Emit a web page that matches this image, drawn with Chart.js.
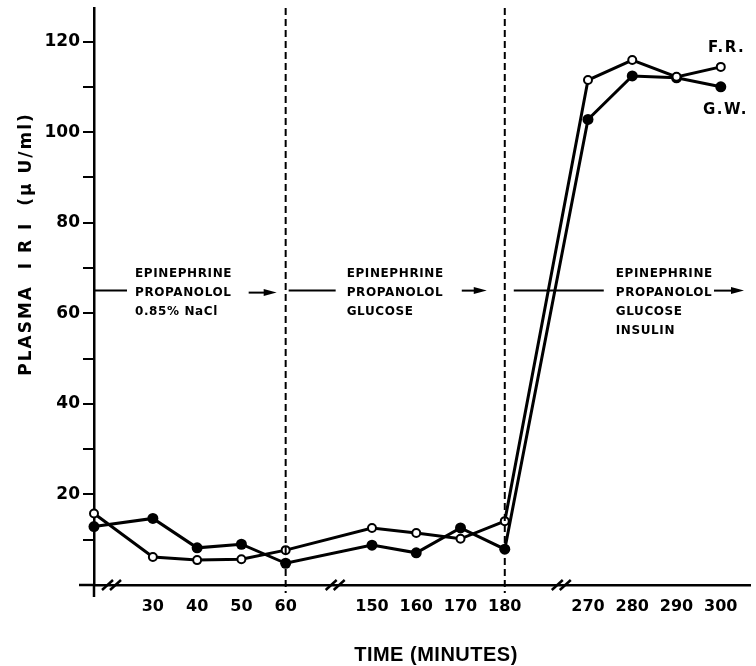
<!DOCTYPE html>
<html>
<head>
<meta charset="utf-8">
<script src="https://cdn.jsdelivr.net/npm/chart.js@4.4.1/dist/chart.umd.min.js"></script>
<style>
  html, body { margin: 0; padding: 0; background: #fff; }
  #wrap { width: 756px; height: 666px; }
</style>
</head>
<body>
<div id="wrap"><canvas id="iriChart" width="756" height="666"></canvas></div>
<script>
// sampling times (minutes) and plasma IRI (uU/ml) for the two subjects
const times = [0, 30, 40, 50, 60, 150, 160, 170, 180, 270, 280, 290, 300];
const frValues = [15.8, 6.2, 5.5, 5.7, 7.7, 12.6, 11.5, 10.2, 14.1, 111.5, 115.9, 112.2, 114.4];
const gwValues = [12.9, 14.7, 8.2, 9.0, 4.8, 8.8, 7.1, 12.6, 7.9, 102.8, 112.4, 112.0, 110.0];
const seriesNames = ['F.R.', 'G.W.'];

const xTickLabels = [30, 40, 50, 60, 150, 160, 170, 180, 270, 280, 290, 300];
const yTickLabels = [20, 40, 60, 80, 100, 120];
const phaseEnds = [60, 180];
const phaseLevel = 65;
const phaseTexts = [
    ['EPINEPHRINE', 'PROPANOLOL', '0.85% NaCl'],
    ['EPINEPHRINE', 'PROPANOLOL', 'GLUCOSE'],
    ['EPINEPHRINE', 'PROPANOLOL', 'GLUCOSE', 'INSULIN']
];

// broken time axis: each break squeezed to "gap" minutes of width
const axisBreaks = [
    { from: 0, to: 30, gap: 13.3 },
    { from: 60, to: 150, gap: 19.5 },
    { from: 180, to: 270, gap: 18.8 }
];
function axisPos(t) {
    let p = t;
    axisBreaks.forEach(b => {
        if (t >= b.to) p -= (b.to - b.from) - b.gap;
    });
    return p;
}

function arrow(ctx, x1, x2, y) {
    ctx.beginPath();
    ctx.moveTo(x1, y);
    ctx.lineTo(x2 - 10, y);
    ctx.stroke();
    ctx.beginPath();
    ctx.moveTo(x2, y);
    ctx.lineTo(x2 - 13, y - 3.5);
    ctx.lineTo(x2 - 13, y + 3.5);
    ctx.closePath();
    ctx.fill();
}

const decorations = {
    id: 'decorations',
    afterDatasetsDraw(chart) {
        const ctx = chart.ctx;
        const xs = chart.scales.x, ys = chart.scales.y;
        const area = chart.chartArea;
        const y0 = ys.getPixelForValue(0);
        ctx.save();
        ctx.strokeStyle = '#000';
        ctx.fillStyle = '#000';

        // axis stubs past the origin
        ctx.lineWidth = 2.5;
        ctx.beginPath();
        ctx.moveTo(area.left - 15, y0);
        ctx.lineTo(area.left, y0);
        ctx.moveTo(area.left, y0);
        ctx.lineTo(area.left, y0 + 12);
        ctx.stroke();

        // break marks
        ctx.lineWidth = 2.5;
        const breakOffsets = [18, 50, 57];
        axisBreaks.forEach((b, i) => {
            const bx = xs.getPixelForValue(axisPos(b.from)) + breakOffsets[i];
            [-4, 4].forEach(d => {
                ctx.beginPath();
                ctx.moveTo(bx + d - 6, y0 + 5);
                ctx.lineTo(bx + d + 5, y0 - 5);
                ctx.stroke();
            });
        });

        // dashed phase separators
        const dx = phaseEnds.map(t => xs.getPixelForValue(axisPos(t)));
        ctx.lineWidth = 2;
        ctx.setLineDash([7, 4]);
        dx.forEach(x => {
            ctx.beginPath();
            ctx.moveTo(x, area.top);
            ctx.lineTo(x, y0 + 8);
            ctx.stroke();
        });
        ctx.setLineDash([]);

        // phase annotations
        const ly = ys.getPixelForValue(phaseLevel);
        ctx.lineWidth = 2;
        ctx.beginPath();
        ctx.moveTo(area.left, ly); ctx.lineTo(area.left + 33, ly);
        ctx.moveTo(dx[0] + 3, ly); ctx.lineTo(dx[0] + 50, ly);
        ctx.moveTo(dx[1] + 9, ly); ctx.lineTo(dx[1] + 99, ly);
        ctx.stroke();
        arrow(ctx, dx[0] - 37, dx[0] - 9, ly + 2);
        arrow(ctx, dx[1] - 43, dx[1] - 18, ly);
        arrow(ctx, area.right - 36, area.right - 6, ly);

        const textX = [area.left + 41, dx[0] + 61, dx[1] + 111];
        ctx.font = 'bold 12px "DejaVu Sans"';
        ctx.letterSpacing = '0.6px';
        ctx.textAlign = 'left';
        ctx.textBaseline = 'middle';
        phaseTexts.forEach((lines, i) => {
            lines.forEach((s, j) => {
                ctx.fillText(s, textX[i], ly - 16.5 + j * 19);
            });
        });

        // series labels
        ctx.font = 'bold 15px "DejaVu Sans"';
        ctx.letterSpacing = '1.5px';
        ctx.fillText(seriesNames[0], 708, 48);
        ctx.fillText(seriesNames[1], 703, 110);

        // axis titles
        ctx.font = 'bold 20px "Liberation Sans"';
        ctx.letterSpacing = '0.5px';
        ctx.textAlign = 'center';
        ctx.fillText('TIME (MINUTES)', 436, 655);

        ctx.translate(27, 244);
        ctx.rotate(-Math.PI / 2);
        ctx.font = 'bold 17px "DejaVu Sans"';
        ctx.letterSpacing = '2px';
        ctx.fillText('PLASMA  I R I  (\u00b5 U/ml)', 0, 0);
        ctx.restore();
    }
};

const ctx = document.getElementById('iriChart').getContext('2d');
const iriChart = new Chart(ctx, {
    type: 'line',
    data: {
        datasets: [{
            label: seriesNames[0],
            data: times.map((t, i) => ({ x: axisPos(t), y: frValues[i] })),
            borderColor: '#000',
            borderWidth: 3,
            pointRadius: 4,
            pointBorderWidth: 2,
            pointBackgroundColor: '#fff',
            pointBorderColor: '#000',
            tension: 0,
            clip: false
        }, {
            label: seriesNames[1],
            data: times.map((t, i) => ({ x: axisPos(t), y: gwValues[i] })),
            borderColor: '#000',
            borderWidth: 3,
            pointRadius: 5.5,
            pointBorderWidth: 0,
            pointBackgroundColor: '#000',
            pointBorderColor: '#000',
            tension: 0,
            clip: false
        }]
    },
    options: {
        responsive: false,
        animation: false,
        layout: { padding: { top: 8, left: 0, right: 0, bottom: 0 } },
        plugins: {
            legend: { display: false },
            tooltip: { enabled: false }
        },
        scales: {
            x: {
                type: 'linear',
                min: 0,
                max: 148.2,
                afterFit: scale => {
                    scale.height = 81;
                    scale.paddingLeft = 0;
                    scale.paddingRight = 0;
                },
                afterBuildTicks: scale => {
                    scale.ticks = xTickLabels.map(t => ({ value: axisPos(t) }));
                },
                ticks: {
                    callback: (value, index) => xTickLabels[index],
                    font: { family: 'DejaVu Sans', size: 16, weight: 'bold' },
                    color: '#000',
                    padding: 12,
                    maxRotation: 0,
                    autoSkip: false
                },
                grid: { drawOnChartArea: false, drawTicks: false },
                border: { color: '#000', width: 2.5 }
            },
            y: {
                min: 0,
                max: 127.4,
                afterFit: scale => {
                    scale.width = 94;
                    scale.paddingTop = 0;
                    scale.paddingBottom = 0;
                },
                afterBuildTicks: scale => {
                    const ticks = [];
                    yTickLabels.forEach(v => {
                        ticks.push({ value: v - 10 });
                        ticks.push({ value: v });
                    });
                    scale.ticks = ticks.filter(t => t.value > 0);
                },
                ticks: {
                    callback: value => (yTickLabels.includes(value) ? value : ''),
                    font: { family: 'DejaVu Sans', size: 17, weight: 'bold' },
                    color: '#000',
                    padding: 3,
                    autoSkip: false
                },
                grid: { drawOnChartArea: false, color: '#000', lineWidth: 2, tickLength: 11 },
                border: { color: '#000', width: 2.5 }
            }
        }
    },
    plugins: [decorations]
});
</script>
</body>
</html>
